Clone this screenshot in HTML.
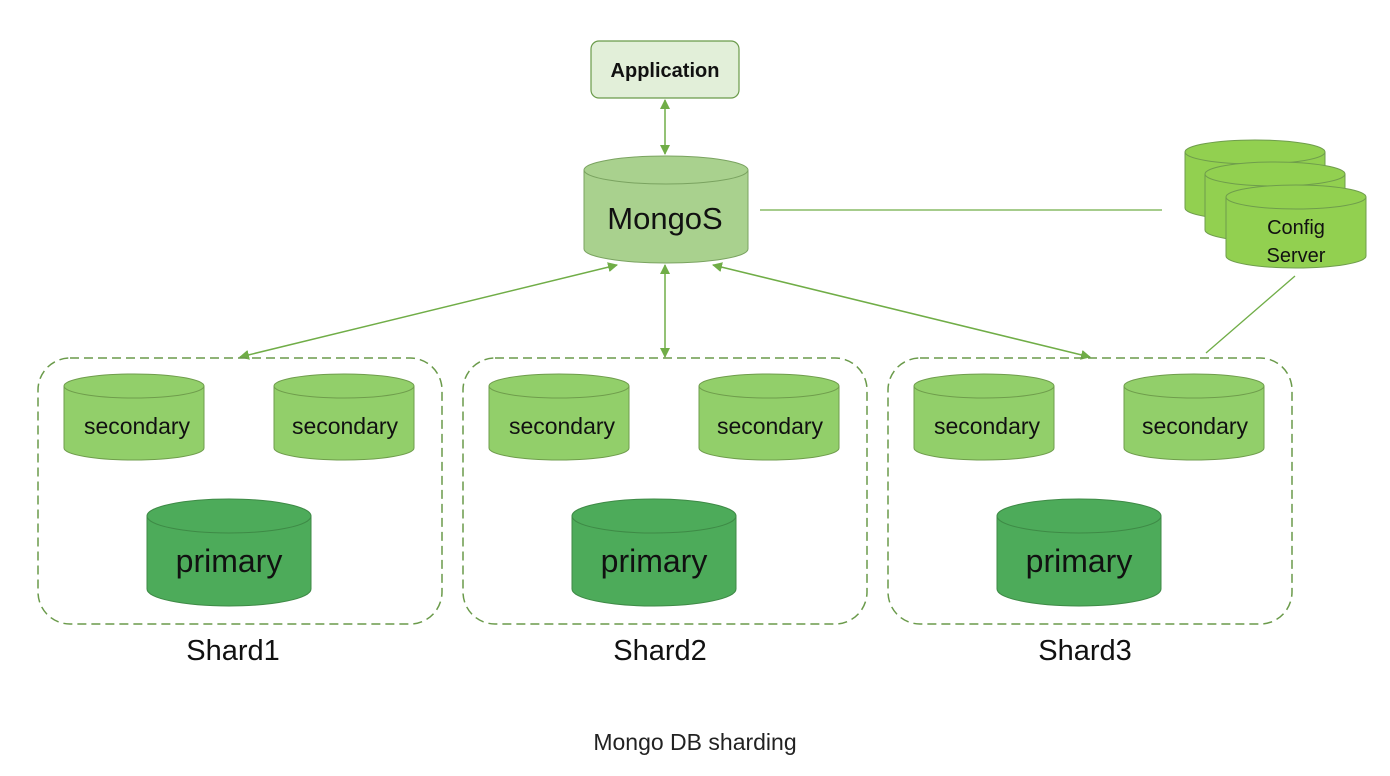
<!DOCTYPE html>
<html><head><meta charset="utf-8"><style>
html,body{margin:0;padding:0;background:#fff;}
svg{display:block;}
text{font-family:"Liberation Sans","DejaVu Sans",sans-serif;fill:#111;}
</style></head><body>
<svg width="1390" height="776" viewBox="0 0 1390 776" xmlns="http://www.w3.org/2000/svg">
<defs>
<marker id="ah" viewBox="0 0 10 10" refX="9" refY="5" markerWidth="10" markerHeight="10" orient="auto-start-reverse" markerUnits="userSpaceOnUse">
<path d="M0,0 L10,5 L0,10 Z" fill="#70ad47"/></marker>
<g id="shard">
<rect x="38" y="358" width="404" height="266" rx="32" ry="32" fill="none" stroke="#6a9a4a" stroke-width="1.5" stroke-dasharray="9,5"/>
<path d="M64,386 V448 A70,12 0 0 0 204,448 V386 Z" fill="#92cf6a" stroke="#6f9d4c" stroke-width="1"/>
<ellipse cx="134" cy="386" rx="70" ry="12" fill="#92cf6a" stroke="#6f9d4c" stroke-width="1"/>
<text x="137" y="434" font-size="23" text-anchor="middle">secondary</text>
<path d="M274,386 V448 A70,12 0 0 0 414,448 V386 Z" fill="#92cf6a" stroke="#6f9d4c" stroke-width="1"/>
<ellipse cx="344" cy="386" rx="70" ry="12" fill="#92cf6a" stroke="#6f9d4c" stroke-width="1"/>
<text x="345" y="434" font-size="23" text-anchor="middle">secondary</text>
<path d="M147,516 V589 A82,17 0 0 0 311,589 V516 Z" fill="#4dab5a" stroke="#3e8a46" stroke-width="1"/>
<ellipse cx="229" cy="516" rx="82" ry="17" fill="#4dab5a" stroke="#3e8a46" stroke-width="1"/>
<text x="229" y="572" font-size="32" text-anchor="middle">primary</text>
</g>
</defs>

<rect x="591" y="41" width="148" height="57" rx="8" ry="8" fill="#e2efd9" stroke="#6a9a4a" stroke-width="1.2"/>
<text x="665" y="77" font-size="20" font-weight="bold" text-anchor="middle">Application</text>

<line x1="665" y1="100" x2="665" y2="154" stroke="#70ad47" stroke-width="1.5" marker-start="url(#ah)" marker-end="url(#ah)"/>

<path d="M584,170 V249 A82,14 0 0 0 748,249 V170 Z" fill="#a9d18e" stroke="#7aa360" stroke-width="1"/>
<ellipse cx="666" cy="170" rx="82" ry="14" fill="#a9d18e" stroke="#7aa360" stroke-width="1"/>
<text x="665" y="229" font-size="31" text-anchor="middle">MongoS</text>

<line x1="760" y1="210" x2="1162" y2="210" stroke="#70ad47" stroke-width="1.3"/>

<g fill="#92d050" stroke="#6f9d4c" stroke-width="1">
<path d="M1185,152 V208 A70,12 0 0 0 1325,208 V152 Z"/><ellipse cx="1255" cy="152" rx="70" ry="12"/>
<path d="M1205,174 V230 A70,12 0 0 0 1345,230 V174 Z"/><ellipse cx="1275" cy="174" rx="70" ry="12"/>
<path d="M1226,197 V256 A70,12 0 0 0 1366,256 V197 Z"/><ellipse cx="1296" cy="197" rx="70" ry="12"/>
</g>
<text x="1296" y="234" font-size="20" text-anchor="middle">Config</text>
<text x="1296" y="262" font-size="20" text-anchor="middle">Server</text>

<line x1="1295" y1="276" x2="1206" y2="353" stroke="#70ad47" stroke-width="1.3"/>

<line x1="617" y1="265" x2="240" y2="357" stroke="#70ad47" stroke-width="1.5" marker-start="url(#ah)" marker-end="url(#ah)"/>
<line x1="665" y1="265" x2="665" y2="357" stroke="#70ad47" stroke-width="1.5" marker-start="url(#ah)" marker-end="url(#ah)"/>
<line x1="713" y1="265" x2="1090" y2="357" stroke="#70ad47" stroke-width="1.5" marker-start="url(#ah)" marker-end="url(#ah)"/>

<use href="#shard"/>
<use href="#shard" transform="translate(425,0)"/>
<use href="#shard" transform="translate(850,0)"/>

<text x="233" y="660" font-size="29" text-anchor="middle">Shard1</text>
<text x="660" y="660" font-size="29" text-anchor="middle">Shard2</text>
<text x="1085" y="660" font-size="29" text-anchor="middle">Shard3</text>

<text x="695" y="750" font-size="23" text-anchor="middle" style="fill:#222">Mongo DB sharding</text>
</svg>
</body></html>
